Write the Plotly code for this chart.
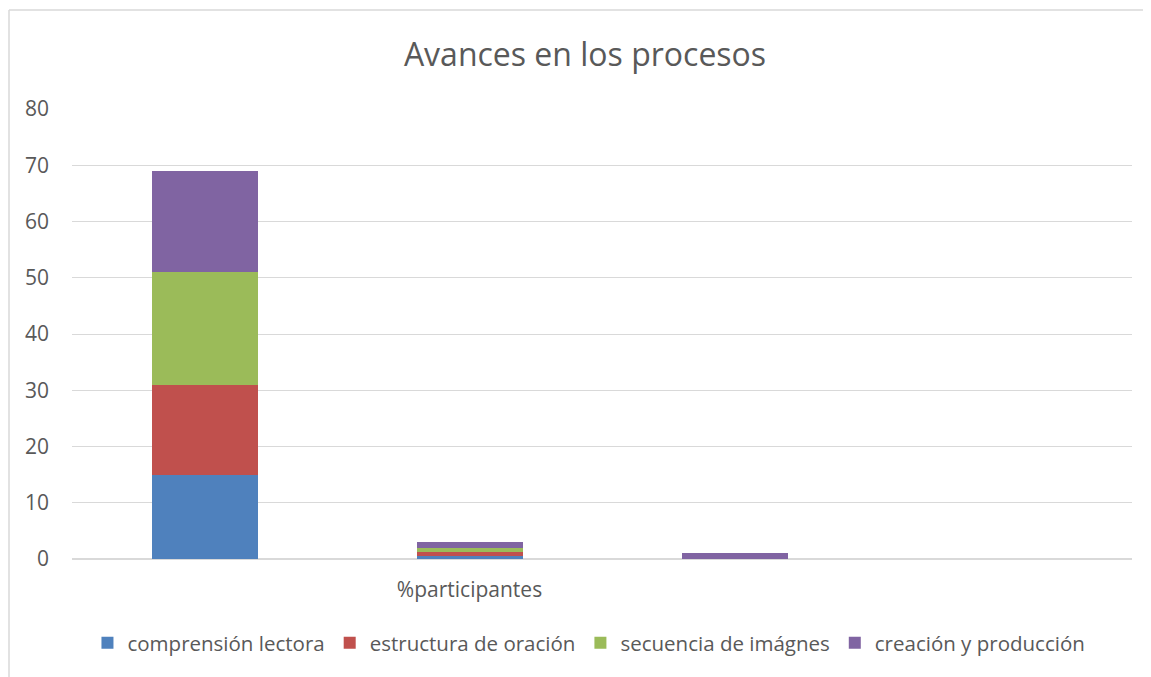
import plotly.graph_objects as go

positions = [1, 2, 3, 4]
tick_labels = ["", "%participantes", "", ""]
series_names = ["comprensión lectora", "estructura de oración", "secuencia de imágnes", "creación y producción"]
comprension = [15, 0.5, 0, 0]
estructura = [16, 0.75, 0, 0]
secuencia = [20, 0.75, 0, 0]
creacion = [18, 1, 1, 0]
colors = ["#4F81BD", "#C0504D", "#9BBB59", "#8064A2"]

fig = go.Figure()
for name, vals, col in zip(series_names, [comprension, estructura, secuencia, creacion], colors):
    fig.add_trace(go.Bar(x=positions, y=vals, name=name, marker=dict(color=col, line=dict(width=0))))

font = "Open Sans, Liberation Sans, sans-serif"
W, H = 1143, 669
L, R, T, B = 64, 19, 101, 118
PW = W - L - R
PH = H - T - B
fig.update_layout(
    barmode="stack",
    bargap=0.6,
    width=W, height=H,
    margin=dict(l=L, r=R, t=T, b=B),
    paper_bgcolor="white", plot_bgcolor="white",
    font=dict(family=font, color="#595959", size=21),
    title=dict(text="Avances en los procesos", x=577 / W, xanchor="center", y=1 - 47 / H, yanchor="middle",
               font=dict(size=32, color="#595959", family=font)),
    legend=dict(orientation="h", x=0.4877, xanchor="center", y=-84 / PH, yanchor="middle",
                traceorder="normal", font=dict(size=20.5, color="#595959"), itemwidth=30),
    xaxis=dict(range=[0.5, 4.5], tickmode="array", tickvals=positions, ticktext=tick_labels,
               showgrid=False, zeroline=False, showline=False, ticks="", tickfont=dict(size=21),
               ticklabelstandoff=16),
    yaxis=dict(range=[0, 80], dtick=10, showgrid=True, gridcolor="#D9D9D9", gridwidth=1,
               zeroline=True, zerolinecolor="#D9D9D9", showline=False, ticks="",
               tickfont=dict(size=21), ticklabelstandoff=22),
    shapes=[
        dict(type="line", xref="paper", yref="paper", x0=-63 / PW, x1=1 + 30 / PW, y0=1 + 99 / PH, y1=1 + 99 / PH,
             line=dict(color="#D9D9D9", width=1.5)),
        dict(type="line", xref="paper", yref="paper", x0=-63 / PW, x1=-63 / PW, y0=1 + 99 / PH, y1=-130 / PH,
             line=dict(color="#D9D9D9", width=1.5)),
    ],
    showlegend=True,
)
fig.write_html("out.html")
